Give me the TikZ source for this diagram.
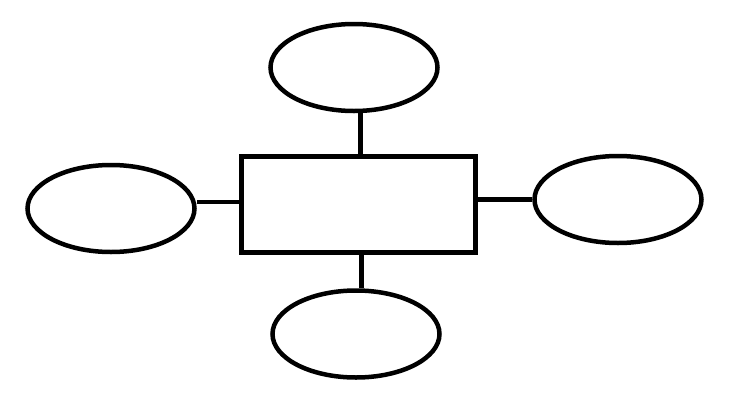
\documentclass[tikz,border=0pt]{standalone}
\usepackage{tikz}
\usetikzlibrary{positioning, shapes.geometric}

\begin{document}
\begin{tikzpicture}[
    x=1pt, y=-1pt,
    blob/.style={ellipse, draw=black, line width=4.5pt, minimum width=167pt,
                 minimum height=87pt, inner sep=0pt},
    box/.style={rectangle, draw=black, line width=4.5pt, minimum width=234pt,
                minimum height=96pt, inner sep=0pt},
    link/.style={line width=4.5pt},
  ]
    \useasboundingbox (0,0) rectangle (732,400);

    \node[box] (core) at (358.5,204.5) {};
    \node[blob] (up) at (354,67.5) {};
    \node[blob] (down) at (356,334) {};
    \node[blob] (west) at (111,208.5) {};
    \node[blob] (east) at (618,199.5) {};

    \draw[link] ([xshift=2pt]core.north) -- ([xshift=2pt]core.north |- up.south);
    \draw[link] ([xshift=3pt]core.south) -- ([xshift=3pt]core.south |- down.north);
    \draw[link] ([yshift=2.5pt]core.west) -- ([yshift=2.5pt]core.west -| west.east);
    \draw[link] ([yshift=5pt]core.east) -- ([yshift=5pt]core.east -| east.west);
  \end{tikzpicture}
\end{document}
